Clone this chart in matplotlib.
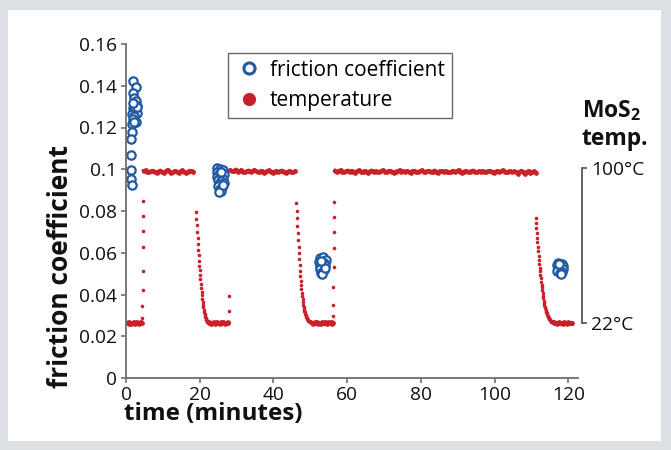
import numpy as np
import matplotlib
matplotlib.use("Agg")
import matplotlib.pyplot as plt
from matplotlib.lines import Line2D
from matplotlib.patches import Rectangle

plt.rcParams['font.family'] = ['Open Sans', 'DejaVu Sans']
plt.rcParams['mathtext.fontset'] = 'custom'
plt.rcParams['mathtext.rm'] = 'Open Sans:bold'
plt.rcParams['mathtext.it'] = 'Open Sans:bold'
plt.rcParams['mathtext.bf'] = 'Open Sans:bold'

# ---- friction coefficient (time in minutes, coefficient) ----
fric1_t = [1.9, 2.6, 2.0, 2.2, 2.8, 3.0, 2.4, 1.8, 2.6, 2.1, 1.6, 2.9, 2.3, 1.9, 2.7,
           1.5, 2.2, 1.7, 1.4, 1.4, 1.4, 1.4, 1.5, 2.5, 3.1, 2.0]
fric1_f = [0.1424, 0.1396, 0.1363, 0.134, 0.1325, 0.1305, 0.131, 0.1295, 0.1285, 0.128,
           0.1265, 0.127, 0.1255, 0.124, 0.1225, 0.1215, 0.1225, 0.118, 0.1145, 0.1068,
           0.0996, 0.0952, 0.0925, 0.1295, 0.1298, 0.1315]
fric2_t = [24.7, 25.4, 26.3, 24.6, 25.2, 26.6, 24.8, 25.6, 26.2, 25.0, 25.8, 26.5, 25.3,
           24.9, 26.0, 25.5, 25.9, 25.2, 26.4, 25.7]
fric2_f = [0.1005, 0.1000, 0.0995, 0.0985, 0.0978, 0.0975, 0.0965, 0.0962, 0.0955, 0.0948,
           0.0942, 0.0935, 0.0928, 0.0918, 0.0915, 0.0905, 0.0895, 0.089, 0.0925, 0.0985]
fric3_t = [52.6, 53.4, 54.2, 52.3, 53.8, 52.8, 54.0, 52.5, 53.3, 52.7, 53.6, 52.9, 53.2,
           54.1, 53.0]
fric3_f = [0.0575, 0.0578, 0.0565, 0.0555, 0.0552, 0.0545, 0.054, 0.0532, 0.053, 0.052,
           0.0515, 0.0505, 0.0498, 0.0525, 0.056]
fric4_t = [117.3, 118.3, 117.0, 118.6, 117.2, 118.4, 117.0, 118.2, 117.6, 118.0, 117.5]
fric4_f = [0.0552, 0.0548, 0.054, 0.0535, 0.0525, 0.0522, 0.0512, 0.051, 0.0502, 0.0498,
           0.0545]

# ---- MoS2 temperature (deg C), logged segments: (start time, step, readings) ----
flat0_t0, flat0_dt = 0.5, 0.2
flat0_T = [22.2, 21.8, 22.4, 22.0, 21.7, 22.3, 22.1, 21.9, 22.5, 22.0, 21.8, 22.2, 22.4,
           21.9, 22.1, 21.7, 22.3, 22.0, 22.6, 22.2]

heat1_t = [4.42, 4.45, 4.48, 4.50, 4.53, 4.55, 4.58, 4.60]
heat1_T = [24.8, 30.7, 38.8, 48.5, 60.4, 68.6, 76.0, 83.6]

plat1_t0, plat1_dt = 4.8, 0.5
plat1_T = [98.6, 98.9, 98.2, 97.9, 98.4, 98.7, 98.1, 97.6, 98.3, 98.8, 98.0, 97.7, 98.5,
           99.1, 98.2, 97.4, 98.0, 98.6, 98.3, 97.8, 98.4, 98.9, 98.1, 97.5, 98.2, 98.7,
           98.4, 98.0]

cool1_t0, cool1_dt = 19.0, 0.1
cool1_T = [78.1, 74.6, 71.2, 67.9, 64.7, 61.7, 58.8, 56.1, 53.5, 51.0, 48.6, 46.3, 44.1,
           42.0, 39.9, 37.9, 36.1, 34.4, 32.8, 31.4, 30.1, 28.9, 27.8, 26.8, 26.0, 25.3,
           24.7, 24.2, 23.8, 23.4, 23.1, 22.8, 22.6, 22.4]

flat1_t0, flat1_dt = 22.4, 0.2
flat1_T = [22.5, 22.2, 22.0, 21.8, 22.3, 22.1, 21.9, 22.4, 22.0, 21.7, 22.2, 22.5, 21.9,
           22.1, 22.3, 21.8, 22.0, 22.4, 22.1, 21.9, 22.6, 22.0, 21.8, 22.3, 22.2, 21.9,
           22.4, 22.1]

heat2_t = [27.95, 28.0]
heat2_T = [28.2, 35.8]

plat2_t0, plat2_dt = 28.3, 0.5
plat2_T = [98.9, 98.4, 98.7, 99.3, 98.2, 98.6, 99.0, 98.3, 97.9, 98.5, 98.8, 98.1, 98.4,
           99.1, 98.6, 98.0, 98.3, 98.7, 97.8, 98.2, 98.5, 98.9, 98.1, 97.7, 98.3, 98.6,
           98.0, 98.4, 98.8, 98.2, 97.6, 98.1, 98.5, 98.3, 97.9, 98.4]

cool2_t0, cool2_dt = 46.2, 0.1
cool2_T = [82.4, 78.6, 74.8, 71.1, 67.5, 64.0, 60.6, 57.3, 54.2, 51.2, 48.4, 45.8, 43.4,
           41.2, 39.2, 37.4, 35.7, 34.1, 32.7, 31.4, 30.3, 29.3, 28.4, 27.6, 26.9, 26.3,
           25.8, 25.3, 24.9, 24.5, 24.2, 23.9, 23.6, 23.4, 23.2, 23.0, 22.8, 22.7, 22.6,
           22.5, 22.4]

flat2_t0, flat2_dt = 50.4, 0.2
flat2_T = [22.3, 22.0, 21.8, 22.2, 22.4, 21.9, 22.1, 22.5, 21.8, 22.0, 22.3, 22.1, 21.7,
           22.2, 22.4, 22.0, 21.9, 22.3, 22.6, 22.1, 21.8, 22.0, 22.4, 22.2, 21.9, 22.1,
           22.5, 22.0, 21.8, 22.3]

heat3_t = [56.22, 56.25, 56.28, 56.30, 56.33, 56.36, 56.38, 56.40]
heat3_T = [25.9, 31.2, 40.4, 50.5, 59.7, 68.1, 75.6, 83.2]

plat3_t0, plat3_dt = 56.7, 0.5
plat3_T = [98.7, 98.2, 98.5, 99.0, 98.3, 97.9, 98.4, 98.8, 98.1, 98.6,
           98.3, 97.8, 98.5, 98.9, 98.2, 98.0, 98.6, 98.3, 97.7, 98.4,
           98.8, 98.1, 98.5, 98.2, 97.9, 98.6, 99.0, 98.3, 98.0, 98.4,
           98.7, 98.2, 97.6, 98.3, 98.5, 98.9, 98.1, 98.4, 98.0, 98.6,
           98.2, 97.8, 98.4, 98.7, 98.3, 98.0, 98.5, 98.9, 98.2, 97.9,
           98.4, 98.6, 98.1, 98.3, 98.8, 98.0, 97.7, 98.4, 98.6, 98.2,
           98.5, 98.1, 97.9, 98.3, 98.7, 98.2, 98.4, 99.0, 98.1, 97.8,
           98.3, 98.6, 98.2, 98.0, 98.5, 98.8, 98.3, 97.9, 98.4, 98.1,
           98.6, 98.2, 98.0, 98.5, 98.7, 98.3, 97.8, 98.2, 98.6, 98.1,
           98.4, 98.9, 98.2, 97.9, 98.3, 98.5, 98.0, 98.4, 98.2, 97.3,
           98.1, 98.6, 98.3, 96.9, 98.2, 98.5, 97.4, 98.1, 98.4, 97.8]

cool3_t0, cool3_dt = 111.1, 0.1
cool3_T = [74.8, 72.3, 69.8, 67.4, 65.0, 62.7, 60.4, 58.2, 56.0, 53.9, 51.9, 50.0, 48.1,
           46.3, 44.6, 43.0, 41.5, 40.0, 38.6, 37.2, 35.9, 34.6, 33.4, 32.3, 31.3, 30.4,
           29.6, 28.9, 28.2, 27.6, 27.0, 26.5, 26.0, 25.6, 25.2, 24.8, 24.5, 24.2, 23.9,
           23.7, 23.5, 23.3, 23.1, 22.9, 22.8, 22.7, 22.6, 22.5, 22.4]

flat3_t0, flat3_dt = 116.0, 0.2
flat3_T = [22.4, 22.1, 21.9, 22.3, 22.0, 21.8, 22.2, 22.5, 22.0, 21.9, 22.3, 22.1, 21.7,
           22.2, 22.4, 21.9, 22.1, 22.3, 21.8, 22.0, 22.4, 22.2, 21.9, 22.1, 22.3, 22.0]

x_ticks = [0, 20, 40, 60, 80, 100, 120]
y_ticks = [0, 0.02, 0.04, 0.06, 0.08, 0.10, 0.12, 0.14, 0.16]
y_tick_labels = ['0', '0.02', '0.04', '0.06', '0.08', '0.1', '0.12', '0.14', '0.16']
temp_ticks = [22, 100]
temp_tick_labels = ['22°C', '100°C']

blue = '#1f5aa3'
red = '#c82129'
gray = '#6e6e6e'

W, H = 671, 450


def fp(x, y):
    # pixel position (from top-left) -> figure fraction
    return x / W, 1 - y / H


fig = plt.figure(figsize=(W / 100, H / 100), dpi=100)
fig.patch.set_facecolor('#dcdfe3')
fig.patches.append(Rectangle(fp(8, 441), (661 - 8) / W, (441 - 10) / H,
                             transform=fig.transFigure, facecolor='white',
                             edgecolor='none', zorder=-5))

l, b = fp(126, 378)
ax = fig.add_axes([l, b, (578 - 126) / W, (378 - 44) / H])
ax2 = ax.twinx()

# temperature on the twin axis: steady parts (thick band) and transients (dots)
steady = [
    (flat0_t0 + flat0_dt * np.arange(len(flat0_T)), flat0_T),
    (plat1_t0 + plat1_dt * np.arange(len(plat1_T)), plat1_T),
    (flat1_t0 + flat1_dt * np.arange(len(flat1_T)), flat1_T),
    (plat2_t0 + plat2_dt * np.arange(len(plat2_T)), plat2_T),
    (flat2_t0 + flat2_dt * np.arange(len(flat2_T)), flat2_T),
    (plat3_t0 + plat3_dt * np.arange(len(plat3_T)), plat3_T),
    (flat3_t0 + flat3_dt * np.arange(len(flat3_T)), flat3_T),
]
transient = [
    (np.array(heat1_t), heat1_T),
    (cool1_t0 + cool1_dt * np.arange(len(cool1_T)), cool1_T),
    (np.array(heat2_t), heat2_T),
    (cool2_t0 + cool2_dt * np.arange(len(cool2_T)), cool2_T),
    (np.array(heat3_t), heat3_T),
    (cool3_t0 + cool3_dt * np.arange(len(cool3_T)), cool3_T),
]
for t, T in steady:
    ax2.plot(t, T, ls='-', lw=2.8, marker='o', ms=3.4, mew=0, color=red)
for t, T in transient:
    ax2.plot(t, T, ls='', marker='o', ms=2.6, mew=0, color=red)

# friction coefficient on the main axis
for t, f in [(fric1_t, fric1_f), (fric2_t, fric2_f), (fric3_t, fric3_f), (fric4_t, fric4_f)]:
    ax.plot(t, f, ls='', marker='o', ms=6, mfc='white', mec=blue, mew=1.6)

ax.set_zorder(ax2.get_zorder() + 1)
ax.patch.set_visible(False)

ax.set_xlim(0, 122.6)
ax.set_ylim(0, 0.16)
ax2.set_ylim(-5.5, 162.4)

ax.set_xticks(x_ticks)
ax.set_yticks(y_ticks)
ax.set_yticklabels(y_tick_labels)
for s in ['top', 'right']:
    ax.spines[s].set_visible(False)
for s in ['left', 'bottom']:
    ax.spines[s].set_color(gray)
    ax.spines[s].set_linewidth(1.3)
ax.tick_params(colors=gray, width=1.2, length=3.5, labelsize=13.8, labelcolor='#111111')
ax.tick_params(axis='y', pad=3)
ax.tick_params(axis='x', pad=2)

for s in ['top', 'left', 'bottom']:
    ax2.spines[s].set_visible(False)
ax2.spines['right'].set_position(('outward', 3))
ax2.spines['right'].set_bounds(22, 100)
ax2.spines['right'].set_color('#555555')
ax2.spines['right'].set_linewidth(1.3)
ax2.set_yticks(temp_ticks)
ax2.set_yticklabels(temp_tick_labels)
ax2.tick_params(axis='y', colors='#555555', width=1.2, length=3.5, labelsize=13.8,
                labelcolor='#111111', pad=3)

fig.text(*fp(60, 266), 'friction coefficient', rotation=90, ha='center', va='center',
         fontsize=19, fontweight='bold', color='#111111')
fig.text(*fp(124, 414), 'time (minutes)', ha='left', va='center',
         fontsize=17.5, fontweight='bold', color='#111111')
fig.text(*fp(582, 111), r'MoS$_2$', ha='left', va='center', fontsize=16.5,
         fontweight='bold', color='#111111')
fig.text(*fp(582, 139), 'temp.', ha='left', va='center', fontsize=16.5,
         fontweight='bold', color='#111111')

handles = [
    Line2D([], [], ls='', marker='o', ms=8, mfc='white', mec=blue, mew=2.2),
    Line2D([], [], ls='', marker='o', ms=9.5, color=red, mew=0),
]
leg = ax.legend(handles, ['friction coefficient', 'temperature'],
                loc='upper left', bbox_to_anchor=fp(228, 53),
                bbox_transform=fig.transFigure, borderaxespad=0, fontsize=15,
                frameon=True, fancybox=False, handlelength=1.4, handletextpad=0.3,
                labelspacing=0.45, borderpad=0.32)
leg.get_frame().set_edgecolor('#444444')
leg.get_frame().set_linewidth(1.0)

fig.savefig('out.png', dpi=100, facecolor=fig.get_facecolor())
